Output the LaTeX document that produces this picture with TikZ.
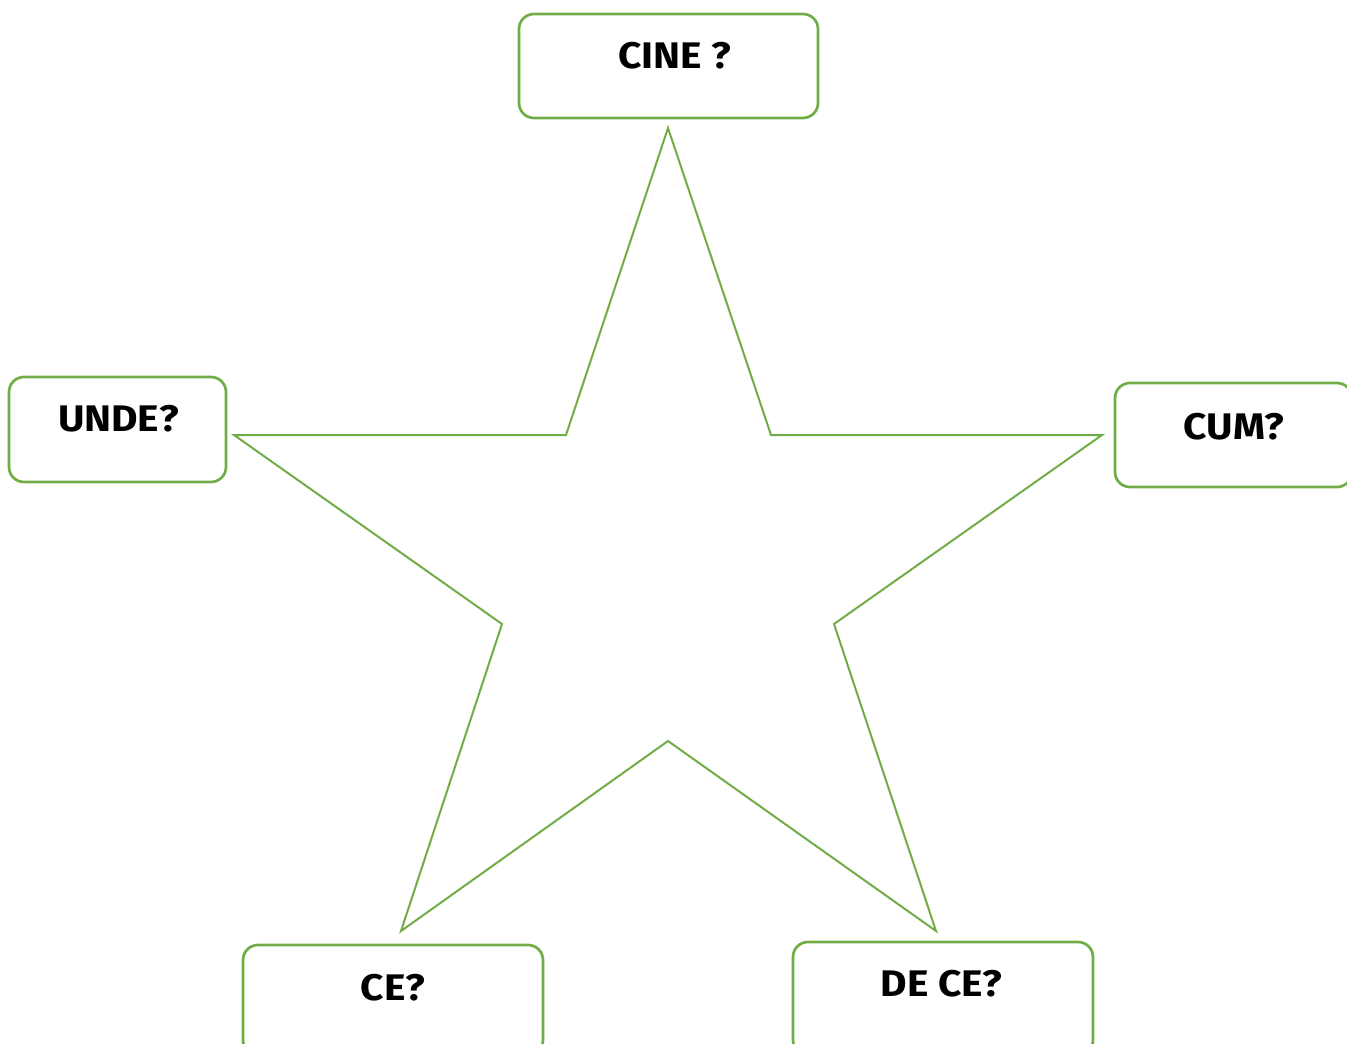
\documentclass[tikz,border=0pt]{standalone}
\usepackage{fontspec}
\setmainfont{Fira Sans}[FakeStretch=1.1]
\definecolor{lgreen}{HTML}{70AD47}
\begin{document}
\begin{tikzpicture}[x=1pt,y=-1pt,
  qbox/.style={draw=lgreen,line width=2.7pt,rounded corners=15pt},
  qtext/.style={anchor=base,inner sep=0pt,font=\fontsize{37}{40}\selectfont\bfseries,text=black}]
\useasboundingbox (0,0) rectangle (1347,1044);
\clip (0,0) rectangle (1347,1044);
% boxes
\draw[qbox] (519,14) rectangle (818,118) coordinate (cinebox);
\draw[qbox] (9,377) rectangle (226,482) coordinate (undebox);
\draw[qbox] (1115,383) rectangle (1352,487) coordinate (cumbox);
\draw[qbox] (243,945) rectangle (543,1055) coordinate (cebox);
\draw[qbox] (793,942) rectangle (1093,1055) coordinate (decebox);
% labels
\node[qtext] (cine) at (675,68) {CINE ?};
\node[qtext] (unde) at (118.5,431) {UNDE?};
\node[qtext] (cum) at (1234,439) {CUM?};
\node[qtext] (ce) at (393,1000) {CE?};
\node[qtext] (dece) at (941.5,996) {DE CE?};
% star
\draw[lgreen,line width=2pt,line join=miter]
  (668,128) -- (771,435) -- (1102,435) -- (834,624) -- (936,931) --
  (668,741) -- (401,931) -- (502,624) -- (234,435) -- (566,435) -- cycle;
\end{tikzpicture}
\end{document}
